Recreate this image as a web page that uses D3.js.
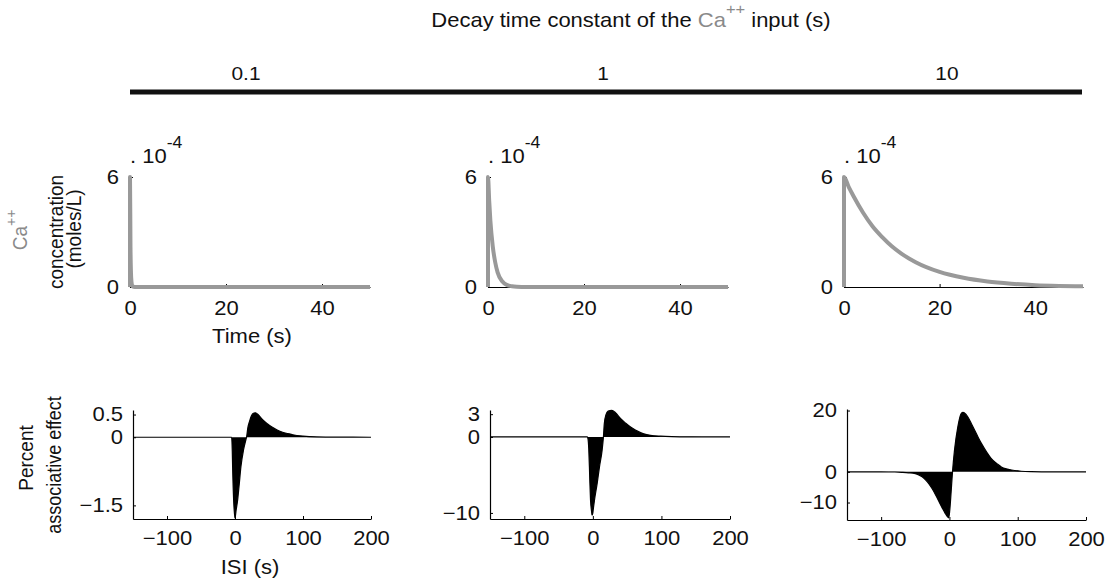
<!DOCTYPE html>
<html><head><meta charset="utf-8">
<script src="https://cdn.jsdelivr.net/npm/d3@7"></script>
<style>
html,body{margin:0;padding:0;background:#fff;}
svg{display:block;font-family:"Liberation Sans",Arial,Helvetica,sans-serif;}
</style></head><body>
<svg id="chart" width="1106" height="584"></svg>
<script>
// ---------- data ----------
const tauLabels = ["0.1", "1", "10"];
const timeTicks = [0, 20, 40];
const concTicks = [0, 6];
const isiTicks = [-100, 0, 100, 200];
const effectTicks = [[-1.5, 0, 0.5], [-10, 0, 3], [-10, 0, 20]];
const effectDomains = [[-1.8, 0.6], [-10.8, 3.55], [-15.7, 20.5]];

// Ca++ concentration (x 1e-4 moles/L) vs time (s)
const caTime01 = [0, 0, 0.1, 0.2, 0.3, 0.5, 1, 50];
const caConc01 = [0, 6, 2.2, 0.8, 0.3, 0.04, 0, 0];
const caTime1 = [0, 0, 0.25, 0.5, 1, 1.5, 2, 3, 4, 5, 6, 8, 50];
const caConc1 = [0, 6, 4.7, 3.6, 2.2, 1.35, 0.8, 0.3, 0.1, 0.04, 0.015, 0, 0];
const caTime10 = [0, 0, 1, 2, 4, 6, 8, 10, 12, 15, 20, 25, 30, 35, 40, 45, 50];
const caConc10 = [0, 6, 5.45, 4.95, 4.05, 3.3, 2.72, 2.22, 1.82, 1.35, 0.82, 0.5, 0.3, 0.18, 0.1, 0.06, 0.04];

// Percent associative effect vs ISI (s)
const isi01 = [-150, -5, -4, -3.5, -2, -1.2, 0, 1.7, 3.9, 6.3, 8.7, 12.5, 15.9, 17, 19, 21, 24, 27, 30, 33, 37, 41, 48, 55, 62, 70, 78, 85, 100, 120, 150, 200];
const eff01 = [0, 0, -0.3, -0.65, -1.38, -1.6, -1.78, -1.6, -1.38, -1.02, -0.65, -0.28, -0.06, 0, 0.22, 0.33, 0.47, 0.53, 0.54, 0.51, 0.45, 0.38, 0.29, 0.22, 0.16, 0.11, 0.08, 0.055, 0.025, 0.008, 0.002, 0];
const isi1 = [-150, -8, -7, -6, -5, -4.3, -3.4, -2, -1.2, 0, 0.5, 2.4, 6.3, 9.7, 13.5, 15.4, 16.7, 19, 22.3, 27.5, 33, 40.6, 48, 55, 62, 69.6, 77, 84, 99, 115, 130, 160, 200];
const eff1 = [0, 0, -0.3, -1.5, -4, -6.1, -8.3, -9.7, -10.3, -10.0, -9.6, -8.3, -6.1, -3.9, -1.75, 0, 1.76, 2.9, 3.4, 3.5, 3.2, 2.4, 1.8, 1.3, 0.9, 0.57, 0.35, 0.22, 0.1, 0.04, 0.02, 0.005, 0];
const isi10 = [-150, -100, -80, -70, -60, -50, -45, -40, -35, -30, -25, -20, -15, -10, -6, -3, -1, 0.5, 2.5, 4.5, 7.4, 12.3, 17.2, 20, 24, 27, 32, 37, 42, 47, 55, 61, 70, 76, 85, 91, 105, 120, 150, 200];
const eff10 = [0, 0, -0.05, -0.15, -0.3, -0.6, -1.0, -1.6, -2.6, -3.9, -5.6, -7.6, -9.8, -12.0, -13.6, -14.6, -15.0, -12.5, -6.5, 0, 7, 14.7, 19, 19.4, 18.8, 17.9, 15.8, 13.6, 11.3, 9.2, 6.3, 4.4, 2.6, 1.6, 0.9, 0.6, 0.2, 0.07, 0, 0];

// ---------- layout ----------
const svg = d3.select("#chart");
const FONT = 20;
const SX = 1.1;          // horizontal glyph stretch seen in the reference
const caGray = "#999999";
const textGray = "#8a8a8a";

const topBoxes = [
  {x0: 130, x1: 370, y0: 177, y1: 287},
  {x0: 488, x1: 728, y0: 177, y1: 287},
  {x0: 844, x1: 1083, y0: 177, y1: 287}
];
const botBoxes = [
  {x0: 133, x1: 371, y0: 410, y1: 519},
  {x0: 490, x1: 730, y0: 410, y1: 519},
  {x0: 847, x1: 1086, y0: 409, y1: 520}
];
const caSeries = [[caTime01, caConc01], [caTime1, caConc1], [caTime10, caConc10]];
const effSeries = [[isi01, eff01], [isi1, eff1], [isi10, eff10]];
const colLabelX = [246, 603, 947];

const fmt = d => (d < 0 ? "\u2212" + Math.abs(d) : String(d));

function htext(x, y, size, anchor) {
  return svg.append("text").attr("transform", `translate(${x},${y}) scale(${SX},1)`)
    .attr("text-anchor", anchor || "start").attr("font-size", size).attr("fill", "#111");
}
function vtext(x, y, size, str, color) {
  return svg.append("text").attr("transform", `translate(${x},${y}) scale(${SX},1) rotate(-90)`)
    .attr("text-anchor", "middle").attr("font-size", size).attr("fill", color || "#111").text(str || null);
}

// ---------- header ----------
const title = htext(631, 27, FONT, "middle");
title.append("tspan").text("Decay time constant of the ");
title.append("tspan").attr("fill", textGray).text("Ca");
title.append("tspan").attr("fill", textGray).attr("font-size", 15).attr("dy", -13).text("++");
title.append("tspan").attr("dy", 13).text(" input (s)");

svg.append("line").attr("x1", 130).attr("x2", 1082).attr("y1", 92).attr("y2", 92)
  .attr("stroke", "#111").attr("stroke-width", 5);

tauLabels.forEach((t, i) => {
  htext(colLabelX[i], 80, 19, "middle").text(t);
});

function styleAxis(g, left, pad) {
  g.selectAll("path.domain").attr("stroke", "#000").attr("stroke-width", 1.2);
  g.selectAll(".tick line").attr("stroke", "#000").attr("stroke-width", 1);
  const t = g.selectAll(".tick text").attr("font-size", FONT).attr("fill", "#111")
    .attr("font-family", "'Liberation Sans',Arial,sans-serif")
    .attr("transform", `scale(${SX},1)`);
  if (left) t.attr("x", -pad / SX);
}

// ---------- top row ----------
caSeries.forEach((s, i) => {
  const b = topBoxes[i];
  const x = d3.scaleLinear().domain([0, 50]).range([b.x0, b.x1]);
  const y = d3.scaleLinear().domain([0, 6]).range([b.y1, b.y0]);
  const gx = svg.append("g").attr("transform", `translate(0,${b.y1})`)
    .call(d3.axisBottom(x).tickValues(timeTicks).tickFormat(fmt).tickSizeInner(-3).tickSizeOuter(0).tickPadding(14));
  styleAxis(gx, false);
  const gy = svg.append("g").attr("transform", `translate(${b.x0},0)`)
    .call(d3.axisLeft(y).tickValues(concTicks).tickFormat(fmt).tickSizeInner(-3).tickSizeOuter(0).tickPadding(11));
  styleAxis(gy, true, 11);
  const pts = s[0].map((t, k) => [t, s[1][k]]);
  svg.append("path").datum(pts)
    .attr("d", d3.line().x(d => x(d[0])).y(d => y(d[1])).curve(d3.curveMonotoneX))
    .attr("fill", "none").attr("stroke", caGray).attr("stroke-width", 4)
    .attr("stroke-linejoin", "round");
  // exponent label
  const ex = htext(b.x0, 163, FONT, "start");
  ex.append("tspan").text(". 10");
  ex.append("tspan").attr("font-size", 16).attr("dy", -15).text("-4");
});

htext(252, 343, FONT, "middle").text("Time (s)");

// top y label
const yl1 = vtext(27, 230, 19, null, textGray);
yl1.append("tspan").text("Ca");
yl1.append("tspan").attr("font-size", 14).attr("dy", -10).text("++");
vtext(63, 232, 19, "concentration");
vtext(81, 229, 19, "(moles/L)");

// ---------- bottom row ----------
effSeries.forEach((s, i) => {
  const b = botBoxes[i];
  const x = d3.scaleLinear().domain([-150, 200]).range([b.x0, b.x1]);
  const y = d3.scaleLinear().domain(effectDomains[i]).range([b.y1, b.y0]);
  const pts = s[0].map((t, k) => [t, s[1][k]]);
  svg.append("path").datum(pts)
    .attr("d", d3.area().x(d => x(d[0])).y0(y(0)).y1(d => y(d[1])).curve(d3.curveMonotoneX))
    .attr("fill", "#000");
  svg.append("path").datum(pts)
    .attr("d", d3.line().x(d => x(d[0])).y(d => y(d[1])).curve(d3.curveMonotoneX))
    .attr("fill", "none").attr("stroke", "#000").attr("stroke-width", 1.2);
  const gx = svg.append("g").attr("transform", `translate(0,${b.y1})`)
    .call(d3.axisBottom(x).tickValues(isiTicks).tickFormat(fmt).tickSizeInner(-3).tickSizeOuter(0).tickPadding(12));
  styleAxis(gx, false);
  const gy = svg.append("g").attr("transform", `translate(${b.x0},0)`)
    .call(d3.axisLeft(y).tickValues(effectTicks[i]).tickFormat(fmt).tickSizeInner(-3).tickSizeOuter(0).tickPadding(10));
  styleAxis(gy, true, 10);
});

htext(250, 574, FONT, "middle").text("ISI (s)");
vtext(33, 458, 19, "Percent");
vtext(61, 465, 18, "associative effect");
</script>
</body></html>
